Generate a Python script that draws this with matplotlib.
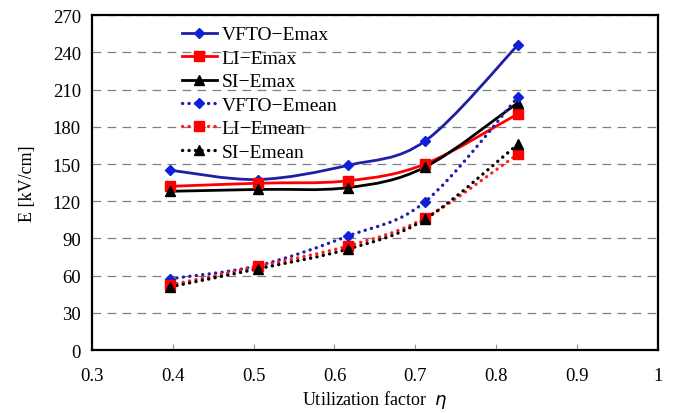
import numpy as np
import matplotlib
matplotlib.use('Agg')
from matplotlib import pyplot as plt
from matplotlib.path import Path
from matplotlib.patches import PathPatch
from matplotlib.lines import Line2D

# utilization factor values
eta = [0.397, 0.505, 0.617, 0.712, 0.827]

# field strength, kV/cm
vfto_emax = [145, 137.5, 149, 168.5, 246]
li_emax = [132, 134.5, 136.5, 150, 190.5]
si_emax = [128, 129.5, 131, 147.5, 199.5]
vfto_emean = [57.5, 68, 92, 119.5, 204]
li_emean = [52.5, 67.5, 84, 106.5, 158]
si_emean = [51, 65.5, 81.5, 105.5, 166]

labels = ['VFTO\u2212Emax', 'LI\u2212Emax', 'SI\u2212Emax',
          'VFTO\u2212Emean', 'LI\u2212Emean', 'SI\u2212Emean']

plt.rcParams['font.family'] = ['Liberation Serif', 'DejaVu Serif']


def smooth_path(xs, ys):
    """Excel-like smoothed line: cubic Bezier segments through the points"""
    pts = np.column_stack([xs, ys]).astype(float)
    n = len(pts)
    verts = [pts[0]]
    codes = [Path.MOVETO]
    for i in range(n - 1):
        p0 = pts[i - 1] if i > 0 else pts[i]
        p1 = pts[i]
        p2 = pts[i + 1]
        p3 = pts[i + 2] if i + 2 < n else pts[i + 1]
        c1 = p1 + (p2 - p0) / 6.0
        c2 = p2 - (p3 - p1) / 6.0
        verts += [c1, c2, p2]
        codes += [Path.CURVE4] * 3
    return Path(verts, codes)


fig = plt.figure(figsize=(6.74, 4.14), dpi=100)
ax = fig.add_axes([0.1365, 0.152, 0.8395, 0.809])

blue_line = '#1e1ea6'
blue_mk = '#1020d8'
dots = (0, (0.05, 1.9))
series = [
    (vfto_emax, blue_line, blue_mk, 'D', 5.5, '-', 2.0),
    (li_emax, '#ff0000', '#ff0000', 's', 7.5, '-', 2.0),
    (si_emax, 'black', 'black', '^', 6.5, '-', 2.0),
    (vfto_emean, blue_line, blue_mk, 'D', 5.5, dots, 2.4),
    (li_emean, '#ff2020', '#ff0000', 's', 7.5, dots, 2.4),
    (si_emean, 'black', 'black', '^', 6.5, dots, 2.4),
]

handles = []
for (vals, lc, mc, mk, ms, ls, lw), lab in zip(series, labels):
    patch = PathPatch(smooth_path(eta, vals), facecolor='none', edgecolor=lc,
                      lw=lw, linestyle=ls, capstyle='round', zorder=3)
    ax.add_patch(patch)
    ax.plot(eta, vals, linestyle='none', marker=mk, ms=ms, color=mc,
            markeredgecolor=mc, zorder=4)
    h = Line2D([], [], color=lc, lw=lw, linestyle=ls, marker=mk,
               ms=ms, markerfacecolor=mc, markeredgecolor=mc, label=lab)
    h.set_dash_capstyle('round')
    handles.append(h)

ax.set_xlim(0.3, 1.0)
ax.set_ylim(0, 270)
ax.set_xticks(np.arange(0.3, 1.01, 0.1))
ax.set_xticklabels(['0.3', '0.4', '0.5', '0.6', '0.7', '0.8', '0.9', '1'])
ax.set_yticks(range(0, 271, 30))
ax.yaxis.grid(True, linestyle=(0, (7, 5)), color='#808080', lw=0.9)
ax.set_axisbelow(True)
ax.tick_params(axis='x', direction='in', length=4, color='#909090',
               labelsize=13.5, pad=12)
ax.tick_params(axis='y', length=0, labelsize=13.5, pad=8)
for s in ax.spines.values():
    s.set_linewidth(1.6)

ax.set_xlabel('Utilization factor  $\\it{\\eta}$', fontsize=13, labelpad=3)
ax.set_ylabel('E [kV/cm]', fontsize=13, labelpad=12)

ax.legend(handles=handles, loc='upper left', bbox_to_anchor=(0.138, 1.003),
          frameon=False, fontsize=14, handlelength=1.8, handletextpad=0.25,
          labelspacing=0.3, borderaxespad=0.2)

fig.savefig('out.png', dpi=100)
